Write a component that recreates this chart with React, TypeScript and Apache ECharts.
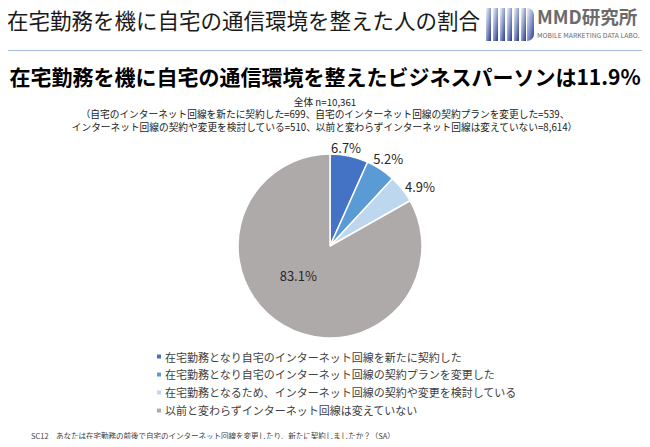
import React, { useEffect, useRef } from "react";
import * as echarts from "echarts";

const categories = [
  "在宅勤務となり自宅のインターネット回線を新たに契約した",
  "在宅勤務となり自宅のインターネット回線の契約プランを変更した",
  "在宅勤務となるため、インターネット回線の契約や変更を検討している",
  "以前と変わらずインターネット回線は変えていない",
];
const values = [6.7, 5.2, 4.9, 83.1];
const colors = ["#4472C4", "#5B9BD5", "#BDD7EE", "#AEAAAA"];

const headTitle = "在宅勤務を機に自宅の通信環境を整えた人の割合";
const mainTitle = "在宅勤務を機に自宅の通信環境を整えたビジネスパーソンは11.9%";
const noteLines = [
  "全体 n=10,361",
  "（自宅のインターネット回線を新たに契約した=699、自宅のインターネット回線の契約プランを変更した=539、",
  "インターネット回線の契約や変更を検討している=510、以前と変わらずインターネット回線は変えていない=8,614）",
];
const footnote = "SC12　あなたは在宅勤務の前後で自宅のインターネット回線を変更したり、新たに契約しましたか？（SA）";

const FONT = "'Noto Sans CJK JP', 'Noto Sans', sans-serif";

export default function App() {
  const ref = useRef<HTMLDivElement>(null);
  useEffect(() => {
    if (!ref.current) return;
    const chart = echarts.init(ref.current, null, { renderer: "svg" });
    const grad = new echarts.graphic.LinearGradient(0, 0, 1, 1, [
      { offset: 0, color: "#f2f4fa" },
      { offset: 0.5, color: "#8d9ccc" },
      { offset: 1, color: "#26367f" },
    ]);
    const bar = (x: number, w: number) => ({
      type: "rect",
      shape: { x, y: 8, width: w, height: 33 },
      style: { fill: grad },
    });
    const note = (text: string, top: number) => ({
      type: "text",
      left: "center",
      top,
      style: { text, font: `9.7px ${FONT}`, lineHeight: 12, fill: "#1a1a1a" },
    });
    chart.setOption({
      animation: false,
      backgroundColor: "#ffffff",
      textStyle: { fontFamily: FONT },
      graphic: [
        {
          type: "text",
          left: 7,
          top: 9,
          style: { text: headTitle, font: `21.5px ${FONT}`, fill: "#1a1a1a" },
        },
        bar(486, 5),
        bar(493, 5),
        bar(500, 5),
        bar(507, 5),
        bar(514, 5),
        bar(521, 5),
        {
          type: "rect",
          shape: { x: 527, y: 8, width: 7, height: 33, r: [0, 14, 14, 0] },
          style: { fill: grad },
        },
        {
          type: "text",
          left: 537,
          top: 6,
          style: { text: "MMD研究所", font: `bold 18.5px ${FONT}`, lineHeight: 20, fill: "#6b6b6b" },
        },
        {
          type: "text",
          left: 537,
          top: 31,
          style: { text: "MOBILE MARKETING DATA LABO.", font: `6.8px ${FONT}`, lineHeight: 8, fill: "#6b6b6b" },
        },
        {
          type: "line",
          shape: { x1: 8, y1: 50.5, x2: 642, y2: 50.5 },
          style: { stroke: "#a8bddf", lineWidth: 1 },
        },
        {
          type: "text",
          left: "center",
          top: 65,
          style: { text: mainTitle, font: `bold 21px ${FONT}`, fill: "#000000" },
        },
        note(noteLines[0], 95.5),
        note(noteLines[1], 108.2),
        note(noteLines[2], 121),
        {
          type: "text",
          left: 31,
          top: 432,
          style: { text: footnote, font: `7.5px ${FONT}`, fill: "#404040" },
        },
      ],
      legend: {
        orient: "vertical",
        left: 150,
        top: 346,
        icon: "rect",
        itemWidth: 6,
        itemHeight: 6,
        itemGap: 7,
        textStyle: { fontSize: 11, color: "#404040", fontFamily: FONT, padding: [0, 0, 0, -2] },
        data: categories,
      },
      series: [
        {
          type: "pie",
          center: [330, 246],
          radius: 92,
          startAngle: 90,
          clockwise: true,
          data: categories.map((name, i) => ({
            name,
            value: values[i],
            itemStyle: { color: colors[i] },
            label:
              i === 3
                ? { position: "inside" }
                : { position: "outside" },
          })),
          itemStyle: { borderColor: "#ffffff", borderWidth: 1.5 },
          label: {
            formatter: (p: any) => `${p.value.toFixed(1)}%`,
            fontSize: 13,
            color: "#262626",
            fontFamily: FONT,
          },
          labelLine: { show: false, length: 4, length2: 0 },
          labelLayout: (p: any) => {
            if (p.dataIndex === 3) return { dx: -7, dy: -13 };
            if (p.dataIndex === 0) return { dx: -24, dy: -5 };
            if (p.dataIndex === 1) return { dx: -13, dy: -9 };
            return { dx: -1, dy: 0 };
          },
        },
      ],
    });
    return () => chart.dispose();
  }, []);
  return <div ref={ref} style={{ width: 650, height: 447, margin: -8 }} />;
}
